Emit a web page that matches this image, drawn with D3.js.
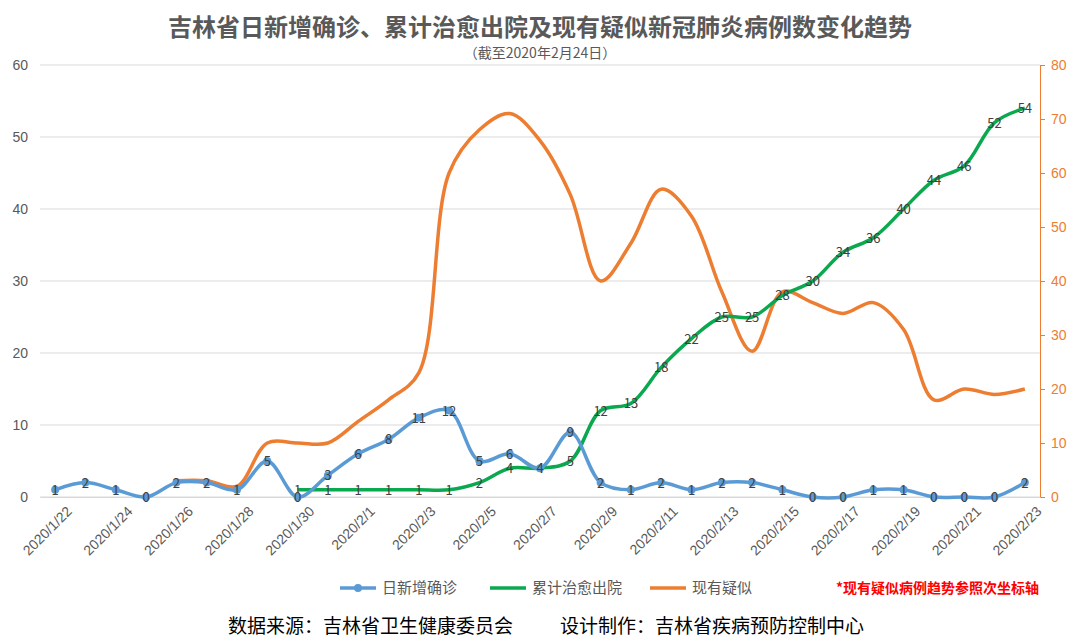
<!DOCTYPE html>
<html><head><meta charset="utf-8">
<script src="https://cdn.jsdelivr.net/npm/d3@7"></script>
<style>body{margin:0;background:#fff;font-family:"Noto Sans CJK SC","Noto Sans",sans-serif}</style>
</head><body><svg id="c" width="1080" height="639"></svg>
<script>
const dates = ['2020/1/22','2020/1/23','2020/1/24','2020/1/25','2020/1/26','2020/1/27','2020/1/28','2020/1/29','2020/1/30','2020/1/31',
  '2020/2/1','2020/2/2','2020/2/3','2020/2/4','2020/2/5','2020/2/6','2020/2/7','2020/2/8','2020/2/9','2020/2/10','2020/2/11',
  '2020/2/12','2020/2/13','2020/2/14','2020/2/15','2020/2/16','2020/2/17','2020/2/18','2020/2/19','2020/2/20','2020/2/21','2020/2/22','2020/2/23'];
const newCases = [1,2,1,0,2,2,1,5,0,3,6,8,11,12,5,6,4,9,2,1,2,1,2,2,1,0,0,1,1,0,0,0,2];
const recovered = [null,null,null,null,null,null,null,null,1,1,1,1,1,1,2,4,4,5,12,13,18,22,25,25,28,30,34,36,40,44,46,52,54];
const suspected = [null,null,null,null,3,3,2,10,10,10,14,18,23,60,68,71,66,56,40,47,57,52,38,27,38,36,34,36,31,18,20,19,20];
const leftTicks = [0,10,20,30,40,50,60];
const rightTicks = [0,10,20,30,40,50,60,70,80];

const svg = d3.select('#c');
const L = 40, R = 1040, T = 65, B = 497;
const x = d3.scalePoint().domain(dates).range([L, R]).padding(0.5);
const y = d3.scaleLinear().domain([0, 60]).range([B, T]);
const y2 = d3.scaleLinear().domain([0, 80]).range([B, T]);
const blue = '#5b9bd5', green = '#0aa84f', orange = '#ed7d31';

svg.append('text').attr('x', 540).attr('y', 36).attr('text-anchor', 'middle')
  .attr('font-size', 24).attr('font-weight', 'bold').attr('fill', '#595959')
  .text('吉林省日新增确诊、累计治愈出院及现有疑似新冠肺炎病例数变化趋势');
svg.append('text').attr('x', 540).attr('y', 58).attr('text-anchor', 'middle')
  .attr('font-size', 14).attr('fill', '#595959').text('（截至2020年2月24日）');

// grid
svg.append('g').selectAll('line').data(leftTicks).join('line')
  .attr('x1', L).attr('x2', R).attr('y1', d => y(d)).attr('y2', d => y(d))
  .attr('stroke', '#d9d9d9');

const ax = svg.append('g').attr('transform', `translate(${L},0)`)
  .call(d3.axisLeft(y).tickValues(leftTicks).tickSize(0).tickPadding(12));
ax.select('.domain').remove();
ax.selectAll('text').attr('font-size', 14).attr('fill', '#595959');

const ax2 = svg.append('g').attr('transform', `translate(${R},0)`)
  .call(d3.axisRight(y2).tickValues(rightTicks).tickSize(5).tickPadding(6));
ax2.selectAll('line,.domain').attr('stroke', orange);
ax2.selectAll('text').attr('font-size', 14).attr('fill', orange);

const axb = svg.append('g').attr('transform', `translate(0,${B})`)
  .call(d3.axisBottom(x).tickValues(dates.filter((d, i) => i % 2 === 0)).tickSize(0));
axb.select('.domain').attr('stroke', '#d9d9d9');
axb.selectAll('text').attr('font-size', 14).attr('fill', '#595959')
  .attr('text-anchor', 'end').attr('transform', 'translate(8,6) rotate(-45)');

const curve = d3.curveCatmullRom.alpha(0.5);
function series(vals, sc, color, markers, labels) {
  const pts = vals.map((v, i) => ({ d: dates[i], v })).filter(p => p.v !== null);
  svg.append('path').datum(pts).attr('fill', 'none').attr('stroke', color).attr('stroke-width', 3.5)
    .attr('d', d3.line().x(p => x(p.d)).y(p => sc(p.v)).curve(curve));
  if (markers) svg.append('g').selectAll('circle').data(pts).join('circle')
    .attr('cx', p => x(p.d)).attr('cy', p => sc(p.v)).attr('r', 4).attr('fill', color);
  if (labels) svg.append('g').selectAll('text').data(pts).join('text')
    .attr('x', p => x(p.d)).attr('y', p => sc(p.v) + 5).attr('text-anchor', 'middle')
    .attr('font-size', 13).attr('fill', '#404040').text(p => p.v);
}
series(suspected, y2, orange, false, false);
series(recovered, y, green, false, true);
series(newCases, y, blue, true, true);

// legend
const lg = svg.append('g').attr('transform', 'translate(0,588)');
[[blue, '日新增确诊', 340, true], [green, '累计治愈出院', 490, false], [orange, '现有疑似', 650, false]].forEach(([c, t, lx, m]) => {
  lg.append('line').attr('x1', lx).attr('x2', lx + 36).attr('stroke', c).attr('stroke-width', 3.5);
  if (m) lg.append('circle').attr('cx', lx + 18).attr('r', 4).attr('fill', c);
  lg.append('text').attr('x', lx + 42).attr('y', 5).attr('font-size', 15).attr('fill', '#595959').text(t);
});
lg.append('text').attr('x', 836).attr('y', 5).attr('font-size', 14).attr('font-weight', 'bold')
  .attr('fill', '#ff0000').text('*现有疑似病例趋势参照次坐标轴');

svg.append('text').attr('x', 228).attr('y', 633).attr('font-size', 19).attr('fill', '#000')
  .text('数据来源：吉林省卫生健康委员会');
svg.append('text').attr('x', 560).attr('y', 633).attr('font-size', 19).attr('fill', '#000')
  .text('设计制作：吉林省疾病预防控制中心');
</script></body></html>
